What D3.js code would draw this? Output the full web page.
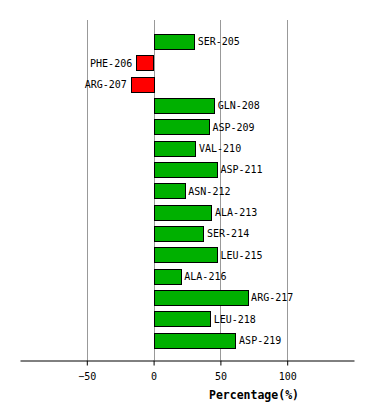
<!DOCTYPE html>
<html>
  <head>
    <meta charset="UTF-8">
    <title>Residue percentages</title>
    <script src="https://cdn.jsdelivr.net/npm/d3@7"></script>
    <style>
      body, html { margin:0; padding:0; background:#fff; }
      text { font-family: "DejaVu Sans Mono", monospace; }
      .grid line { stroke: #999; stroke-width: 1; }
      .bar { stroke: #000; stroke-width: 1; }
      .bar.pos { fill: #00b000; }
      .bar.neg { fill: #ff0000; }
    </style>
  </head>
  <body>
  <div id="chart"></div>
<script type="text/javascript">

  var residues = ['SER-205','PHE-206','ARG-207','GLN-208','ASP-209','VAL-210','ASP-211','ASN-212',
                  'ALA-213','SER-214','LEU-215','ALA-216','ARG-217','LEU-218','ASP-219'];
  var percentages = [30, -13, -17, 45, 41, 31, 47, 23, 43, 37, 47, 20, 70, 42, 61];
  var tickValues = [-50, 0, 50, 100];
  var axisTitle = 'Percentage(%)';

  var width = 374, height = 420;

  var svg = d3.select('#chart').append('svg')
      .attr('width', width)
      .attr('height', height);

  var x = d3.scaleLinear().domain([-100, 150]).range([20, 354]);
  var y = d3.scaleBand().domain(residues).range([31, 351]).paddingInner(0.28).paddingOuter(0.14);

  // vertical grid lines
  svg.append('g').attr('class', 'grid')
    .selectAll('line').data(tickValues).enter().append('line')
      .attr('x1', function(d){ return Math.round(x(d)) + 0.5; })
      .attr('x2', function(d){ return Math.round(x(d)) + 0.5; })
      .attr('y1', 20)
      .attr('y2', 360);

  var data = residues.map(function(r, i){ return { name: r, value: percentages[i] }; });

  // bars
  svg.append('g').selectAll('rect').data(data).enter().append('rect')
      .attr('class', function(d){ return 'bar ' + (d.value >= 0 ? 'pos' : 'neg'); })
      .attr('x', function(d){ return Math.round(x(Math.min(0, d.value))) + 0.5; })
      .attr('y', function(d){ return Math.round(y(d.name)) + 0.5; })
      .attr('width', function(d){ return Math.round(Math.abs(x(d.value) - x(0))); })
      .attr('height', Math.round(y.bandwidth()));

  // labels
  svg.append('g').selectAll('text').data(data).enter().append('text')
      .attr('x', function(d){ return d.value >= 0 ? x(d.value) + 4 : x(d.value) - 4; })
      .attr('y', function(d){ return y(d.name) + y.bandwidth()/2; })
      .attr('dy', '0.35em')
      .attr('text-anchor', function(d){ return d.value >= 0 ? 'start' : 'end'; })
      .style('font-size', '10px')
      .text(function(d){ return d.name; });

  // x axis
  var axis = d3.axisBottom(x).tickValues(tickValues).tickSize(5).tickSizeOuter(0).tickPadding(7);
  var gAxis = svg.append('g').attr('transform', 'translate(0,360.5)').call(axis);
  gAxis.select('.domain').attr('stroke', '#000');
  gAxis.selectAll('.tick line').attr('stroke', '#000');
  gAxis.selectAll('text')
      .style('font-family', '"DejaVu Sans Mono", monospace')
      .style('font-size', '10px')
      .attr('fill', '#000');

  svg.append('text')
      .attr('x', 254)
      .attr('y', 399)
      .attr('text-anchor', 'middle')
      .style('font-size', '11.5px')
      .style('font-weight', 'bold')
      .text(axisTitle);

</script>
  </body>
</html>
